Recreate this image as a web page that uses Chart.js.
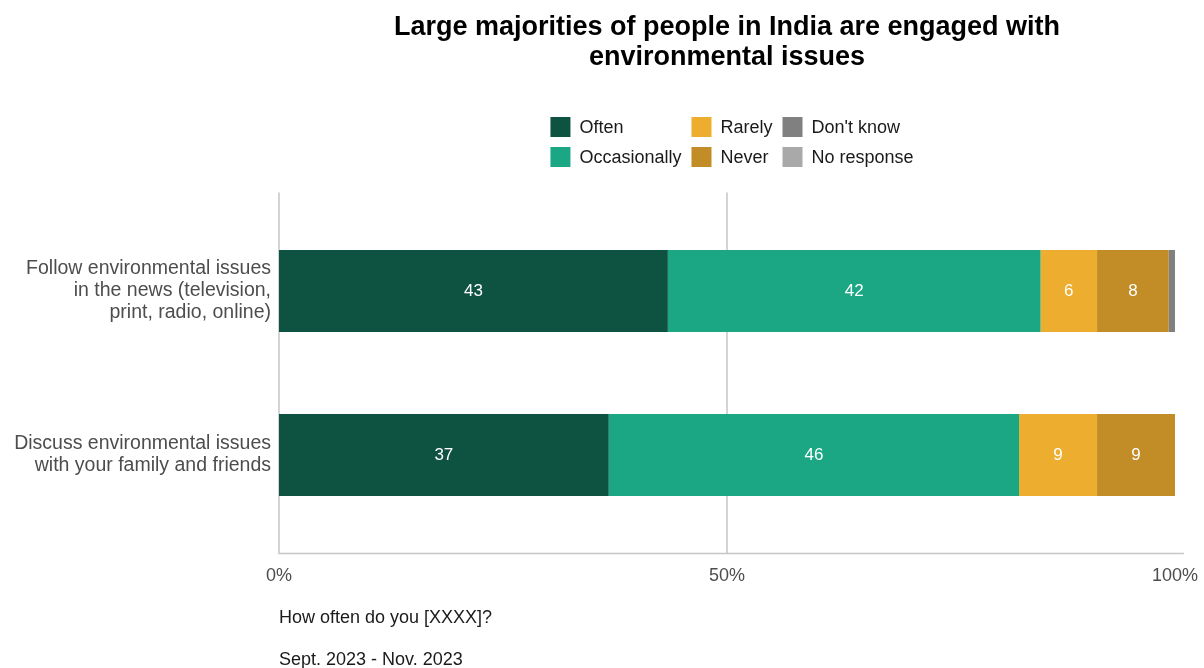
<!DOCTYPE html>
<html>
<head>
<meta charset="utf-8">
<script src="https://cdn.jsdelivr.net/npm/chart.js@4.4.1/dist/chart.umd.min.js"></script>
<style>
  html, body { margin: 0; padding: 0; background: #fff; }
  #wrap { width: 1204px; height: 668px; }
</style>
</head>
<body>
<div id="wrap"><canvas id="chart" width="1204" height="668"></canvas></div>
<script>
// 数据
const questions = [
  ['Follow environmental issues', 'in the news (television,', 'print, radio, online)'],
  ['Discuss environmental issues', 'with your family and friends'],
];
const answerNames = ['Often', 'Occasionally', 'Rarely', 'Never', "Don't know", 'No response'];
const answerColors = ['#0e5241', '#1ba784', '#edad2e', '#c28c27', '#808080', '#a9a9a9'];
const often = [43.4, 36.8];
const occasionally = [41.6, 45.8];
const rarely = [6.3, 8.7];
const never = [8.0, 8.7];
const dontKnow = [0.7, 0];
const noResponse = [0, 0];
const xTicks = [0, 50, 100];

const FONT = '"Liberation Sans", Arial, sans-serif';

// ===== 坐标轴线 + 50% 网格线 =====
const axisLines = {
  id: 'axisLines',
  beforeDatasetsDraw(chart) {
    const { ctx, chartArea: a, scales: { x, y } } = chart;
    const step = y.getPixelForValue(1) - y.getPixelForValue(0);
    const top = a.top - step * 0.1;
    const bottom = a.bottom + step * 0.1;
    ctx.save();
    ctx.strokeStyle = '#c6c6c6';
    ctx.lineWidth = 1.5;
    ctx.beginPath();
    ctx.moveTo(x.getPixelForValue(50), top);
    ctx.lineTo(x.getPixelForValue(50), bottom);
    ctx.moveTo(x.getPixelForValue(0), top);
    ctx.lineTo(x.getPixelForValue(0), bottom);
    ctx.lineTo(x.getPixelForValue(101), bottom);
    ctx.stroke();
    ctx.restore();
  },
};

// ===== 条内数字 =====
const barValues = {
  id: 'barValues',
  afterDatasetsDraw(chart) {
    const ctx = chart.ctx;
    ctx.save();
    ctx.font = '17px ' + FONT;
    ctx.fillStyle = '#ffffff';
    ctx.textAlign = 'center';
    ctx.textBaseline = 'middle';
    chart.data.datasets.forEach((ds, i) => {
      const meta = chart.getDatasetMeta(i);
      meta.data.forEach((bar, j) => {
        const v = ds.data[j];
        if (v < 3) return;
        ctx.fillText(Math.round(v), (bar.x + bar.base) / 2, bar.y);
      });
    });
    ctx.restore();
  },
};

// ===== 图例（按列排） =====
const gridLegend = {
  id: 'gridLegend',
  afterDraw(chart) {
    const ctx = chart.ctx;
    const rows = 2, box = 20, gap = 9, colGap = 10;
    ctx.save();
    ctx.font = '18px ' + FONT;
    ctx.textBaseline = 'middle';
    const cols = [];
    for (let i = 0; i < answerNames.length; i += rows) {
      cols.push(answerNames.slice(i, i + rows).map((n, k) => i + k));
    }
    const widths = cols.map((c) => Math.max(...c.map((i) => ctx.measureText(answerNames[i]).width)) + box + gap);
    const total = widths.reduce((s, w) => s + w, 0) + colGap * (cols.length - 1);
    let x = 732 - total / 2;
    cols.forEach((c, ci) => {
      c.forEach((i, r) => {
        const cy = 127 + r * 30;
        ctx.fillStyle = answerColors[i];
        ctx.fillRect(x, cy - box / 2, box, box);
        ctx.fillStyle = '#1a1a1a';
        ctx.fillText(answerNames[i], x + box + gap, cy + 1);
      });
      x += widths[ci] + colGap;
    });
    ctx.restore();
  },
};

// ===== 底部说明 =====
const footer = {
  id: 'footer',
  afterDraw(chart) {
    const ctx = chart.ctx;
    ctx.save();
    ctx.font = '18px ' + FONT;
    ctx.fillStyle = '#1a1a1a';
    ctx.textBaseline = 'middle';
    ctx.fillText('How often do you [XXXX]?', chart.chartArea.left, 618);
    ctx.fillText('Sept. 2023 - Nov. 2023', chart.chartArea.left, 660);
    ctx.restore();
  },
};

const series = [often, occasionally, rarely, never, dontKnow, noResponse];

new Chart(document.getElementById('chart'), {
  type: 'bar',
  data: {
    labels: questions,
    datasets: series.map((values, i) => ({
      label: answerNames[i],
      data: values,
      backgroundColor: answerColors[i],
      borderWidth: 0,
      categoryPercentage: 1,
      barPercentage: 0.5,
    })),
  },
  plugins: [axisLines, barValues, gridLegend, footer],
  options: {
    indexAxis: 'y',
    responsive: false,
    animation: false,
    layout: { padding: { left: 0, right: 29, top: 0, bottom: 0 } },
    scales: {
      x: {
        stacked: true,
        min: 0,
        max: 100,
        grid: { display: false, drawTicks: false },
        border: { display: false },
        afterBuildTicks: (scale) => {
          scale.ticks = xTicks.map((v) => ({ value: v }));
        },
        afterFit: (scale) => {
          scale.height = 131;
          scale.paddingLeft = 0;
          scale.paddingRight = 0;
        },
        ticks: {
          padding: 28,
          color: '#4d4d4d',
          font: { size: 18, family: FONT },
          callback: (v) => v + '%',
        },
      },
      y: {
        stacked: true,
        grid: { display: false, drawTicks: false },
        border: { display: false },
        afterFit: (scale) => {
          scale.width = 279;
        },
        ticks: {
          padding: 8,
          color: '#4d4d4d',
          font: { size: 19.5, family: FONT, lineHeight: 1.13 },
        },
      },
    },
    plugins: {
      legend: { display: false },
      tooltip: { enabled: false },
      title: {
        display: true,
        fullSize: false,
        text: ['Large majorities of people in India are engaged with', 'environmental issues'],
        color: '#000000',
        font: { size: 27, weight: 'bold', family: FONT, lineHeight: 1.1 },
        padding: { top: 13, bottom: 136.6 },
      },
    },
  },
});
</script>
</body>
</html>
